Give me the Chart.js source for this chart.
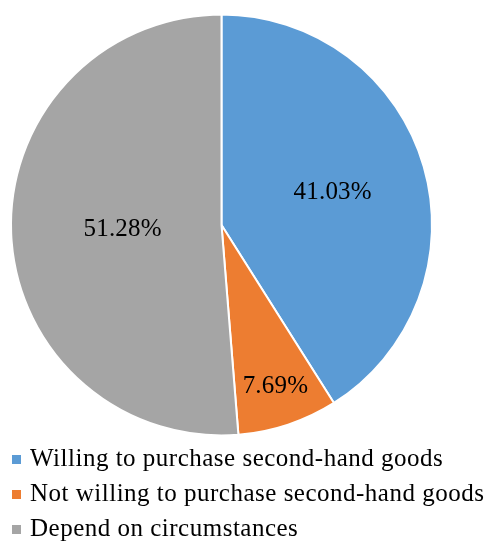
<!DOCTYPE html>
<html>
<head>
<meta charset="utf-8">
<script src="https://cdn.jsdelivr.net/npm/chart.js@4.4.0/dist/chart.umd.min.js"></script>
<style>
  body { margin: 0; background: #fff; }
  #wrap { position: relative; width: 485px; height: 551px; overflow: hidden; }
  #pieBox { position: absolute; left: 0; top: 0; width: 443px; height: 450px; }
  #legend { position: absolute; left: 12px; top: 440px; font-family: "Liberation Serif", "Times New Roman", serif; font-size: 25px; letter-spacing: 0.5px; color: #000; }
  .item { height: 35px; line-height: 35px; white-space: nowrap; }
  .box { display: inline-block; width: 9px; height: 9px; margin-right: 9px; vertical-align: 2px; }
</style>
</head>
<body>
<div id="wrap">
  <div id="pieBox"><canvas id="pie"></canvas></div>
  <div id="legend"></div>
</div>
<script>
// Chart data
const categories = [
  'Willing to purchase second-hand goods',
  'Not willing to purchase second-hand goods',
  'Depend on circumstances'
];
const shares = [41.03, 7.69, 51.28];
const colors = ['#5B9BD5', '#ED7D31', '#A5A5A5'];

// label distance from centre, as fraction of the radius (Excel "best fit")
const labelRadius = [0.55, 0.81, 0.47];

const pctLabels = {
  id: 'pctLabels',
  afterDatasetsDraw(chart) {
    const ctx = chart.ctx;
    const meta = chart.getDatasetMeta(0);
    ctx.save();
    ctx.font = '25px "Liberation Serif", "Times New Roman", serif';
    ctx.letterSpacing = '0.2px';
    ctx.fillStyle = '#000';
    ctx.textAlign = 'center';
    ctx.textBaseline = 'middle';
    meta.data.forEach((arc, i) => {
      const mid = (arc.startAngle + arc.endAngle) / 2;
      const r = arc.outerRadius * labelRadius[i];
      const x = arc.x + Math.cos(mid) * r;
      const y = arc.y + Math.sin(mid) * r;
      ctx.fillText(shares[i].toFixed(2) + '%', x, y);
    });
    ctx.restore();
  }
};

new Chart(document.getElementById('pie').getContext('2d'), {
  type: 'pie',
  data: {
    labels: categories,
    datasets: [{
      data: shares,
      backgroundColor: colors,
      borderColor: '#fff',
      borderWidth: 2
    }]
  },
  options: {
    responsive: true,
    maintainAspectRatio: false,
    animation: false,
    layout: { padding: 10 },
    plugins: {
      legend: { display: false },
      tooltip: { enabled: false }
    }
  },
  plugins: [pctLabels]
});

// Legend
const legendEl = document.getElementById('legend');
categories.forEach((name, i) => {
  const row = document.createElement('div');
  row.className = 'item';
  const box = document.createElement('span');
  box.className = 'box';
  box.style.background = colors[i];
  row.appendChild(box);
  row.appendChild(document.createTextNode(name));
  legendEl.appendChild(row);
});
</script>
</body>
</html>
